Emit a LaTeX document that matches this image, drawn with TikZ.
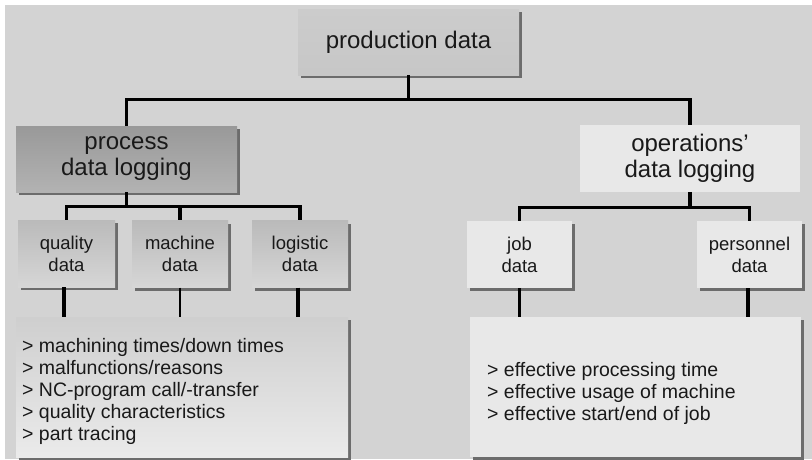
\documentclass[tikz,border=0pt]{standalone}
\usepackage{fontspec}
\setmainfont{Liberation Sans}
\usetikzlibrary{shadows}

\definecolor{bggray}{HTML}{D3D3D3}
\definecolor{shadowgray}{HTML}{6C6C6C}
\definecolor{paleface}{HTML}{E8E8E8}

\tikzset{
  boxbase/.style={rectangle, inner sep=0pt, align=center, text=black!90,
    drop shadow={shadow xshift=3pt, shadow yshift=-3pt, fill=shadowgray, opacity=1}},
  bigfont/.style={font={\fontsize{24}{26}\selectfont}},
  smallfont/.style={font={\fontsize{18.5}{22}\selectfont}},
  listfont/.style={font={\fontsize{19.5}{22}\selectfont}},
  topbox/.style={boxbase, bigfont, minimum width=221pt, minimum height=66pt,
    top color=black!20, middle color=black!9, bottom color=black!22},
  procbox/.style={boxbase, bigfont, minimum width=221pt, minimum height=66pt,
    top color=black!40, bottom color=black!30},
  opsbox/.style={rectangle, inner sep=0pt, align=center, bigfont, text=black!90,
    minimum width=220pt, minimum height=67pt, fill=paleface},
  leafbox/.style={boxbase, smallfont, minimum width=97pt, minimum height=67pt,
    top color=black!27, bottom color=black!16},
  paleleaf/.style={boxbase, smallfont, minimum width=105pt, minimum height=67pt,
    fill=black!9},
  listbox/.style={boxbase, minimum height=140pt},
  listtext/.style={listfont, align=left, inner sep=0pt, anchor=west, text=black!90},
  conn/.style={line width=3.2pt, black},
}

\begin{document}
\begin{tikzpicture}[x=1pt, y=-1pt]
  % canvas and grey panel
  \useasboundingbox (0,0) rectangle (812,459);
  \fill[white] (0,0) rectangle (812,459);
  \fill[bggray] (5,5) rectangle (812,459);

  % top level
  \node[topbox] (prod) at (408.5,42) {production data};

  % second level
  \node[procbox] (proc) at (126.5,159) {process\\data logging};
  \node[opsbox] (ops) at (690,158.5) {operations'\\data logging};

  % third level, process side
  \node[leafbox] (qual) at (66.5,253.5) {quality\\data};
  \node[leafbox, minimum width=96pt] (mach) at (180,254) {machine\\data};
  \node[leafbox, minimum width=96pt] (logi) at (300,254) {logistic\\data};

  % third level, operations side
  \node[paleleaf] (job) at (519.5,254.5) {job\\data};
  \node[paleleaf] (pers) at (749.5,254.5) {personnel\\data};

  % detail lists
  \node[listbox, minimum width=332pt, top color=black!19, bottom color=black!8]
    (plist) at (182,387) {};
  \node[listtext] (ptext) at (22,391)
    {> machining times/down times\\
     > malfunctions/reasons\\
     > NC-program call/-transfer\\
     > quality characteristics\\
     > part tracing};
  \node[listbox, minimum width=331pt, fill=paleface] (olist) at (635.5,387) {};
  \node[listtext] (otext) at (487,393)
    {> effective processing time\\
     > effective usage of machine\\
     > effective start/end of job};

  % connectors: production data to the two logging branches
  \draw[conn] (prod.south) -- ++(0,24) -| (proc.north);
  \draw[conn] (prod.south) ++(0,24) -| (ops.north);

  % process data logging to its three kinds of data
  \draw[conn] (proc.south) -- ++(0,14) -| (qual.north);
  \draw[conn] (proc.south) ++(0,14) -| (mach.north);
  \draw[conn] (proc.south) ++(0,14) -| (logi.north);

  % operations' data logging to job and personnel data
  \draw[conn] (ops.south) -- ++(0,15) -| (job.north);
  \draw[conn] (ops.south) ++(0,15) -| (pers.north);

  % data boxes down to the lists
  \draw[conn] (qual.south -| 64,0) -- (plist.north -| 64,0);
  \draw[conn, line width=2.4pt] (mach.south) -- (mach.south |- plist.north);
  \draw[conn] (logi.south -| 298,0) -- (plist.north -| 298,0);
  \draw[conn] (job.south) -- (job.south |- olist.north);
  \draw[conn] (pers.south -| 748,0) -- (olist.north -| 748,0);
\end{tikzpicture}
\end{document}
